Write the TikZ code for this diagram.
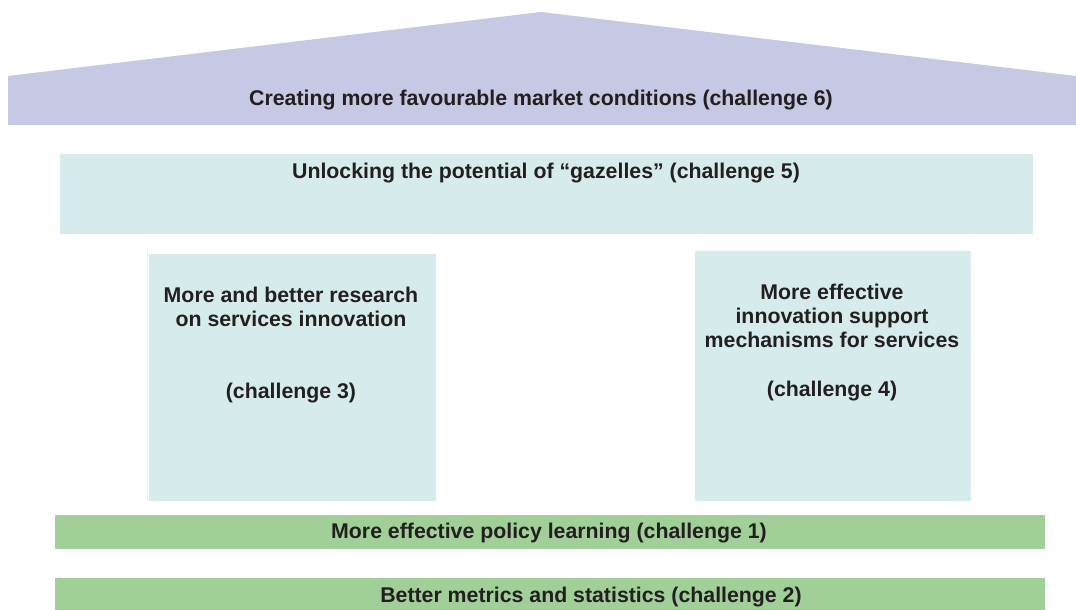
\documentclass[tikz,border=0pt]{standalone}
\usepackage{fontspec}
\setmainfont{Liberation Sans}
\definecolor{roof}{RGB}{198, 200, 228}
\definecolor{pillar}{RGB}{214, 236, 236}
\definecolor{base}{RGB}{160, 208, 152}
\definecolor{ink}{RGB}{35, 31, 32}

\begin{document}
\begin{tikzpicture}[x=1pt, y=-1pt,
    caption/.style={font=\bfseries\fontsize{21.3}{24}\selectfont, text=ink, align=center, inner sep=0pt}]
  \useasboundingbox (0, 0) rectangle (1076, 610);

  \fill[color=roof] (8, 76) -- (541, 12) -- (1076, 76) -- (1076, 125) -- (8, 125) -- cycle;
  \fill[color=pillar] (60, 154) rectangle (1033, 234);
  \draw[color=pillar!70, line width=1pt] (147, 250) -- (147, 501);
  \fill[color=pillar] (149, 254) rectangle (436, 501);
  \fill[color=pillar] (695, 251) rectangle (971, 501);
  \fill[color=base] (55, 515) rectangle (1045, 549);
  \fill[color=base] (55, 578) rectangle (1045, 610);

  \node[caption, anchor=base] (market) at (541, 105) {Creating more favourable market conditions (challenge 6)};
  \node[caption, anchor=base] (gazelles) at (546, 178) {Unlocking the potential of “gazelles” (challenge 5)};
  \node[caption] (research) at (291, 307) {More and better research\\on services innovation};
  \node[caption, anchor=base] (research-no) at (291, 398) {(challenge 3)};
  \node[caption] (support) at (832, 316) {More effective\\innovation support\\mechanisms for services};
  \node[caption, anchor=base] (support-no) at (832, 396) {(challenge 4)};
  \node[caption, anchor=base] (policy) at (549, 538) {More effective policy learning (challenge 1)};
  \node[caption, anchor=base] (metrics) at (591, 602) {Better metrics and statistics (challenge 2)};
\end{tikzpicture}
\end{document}
